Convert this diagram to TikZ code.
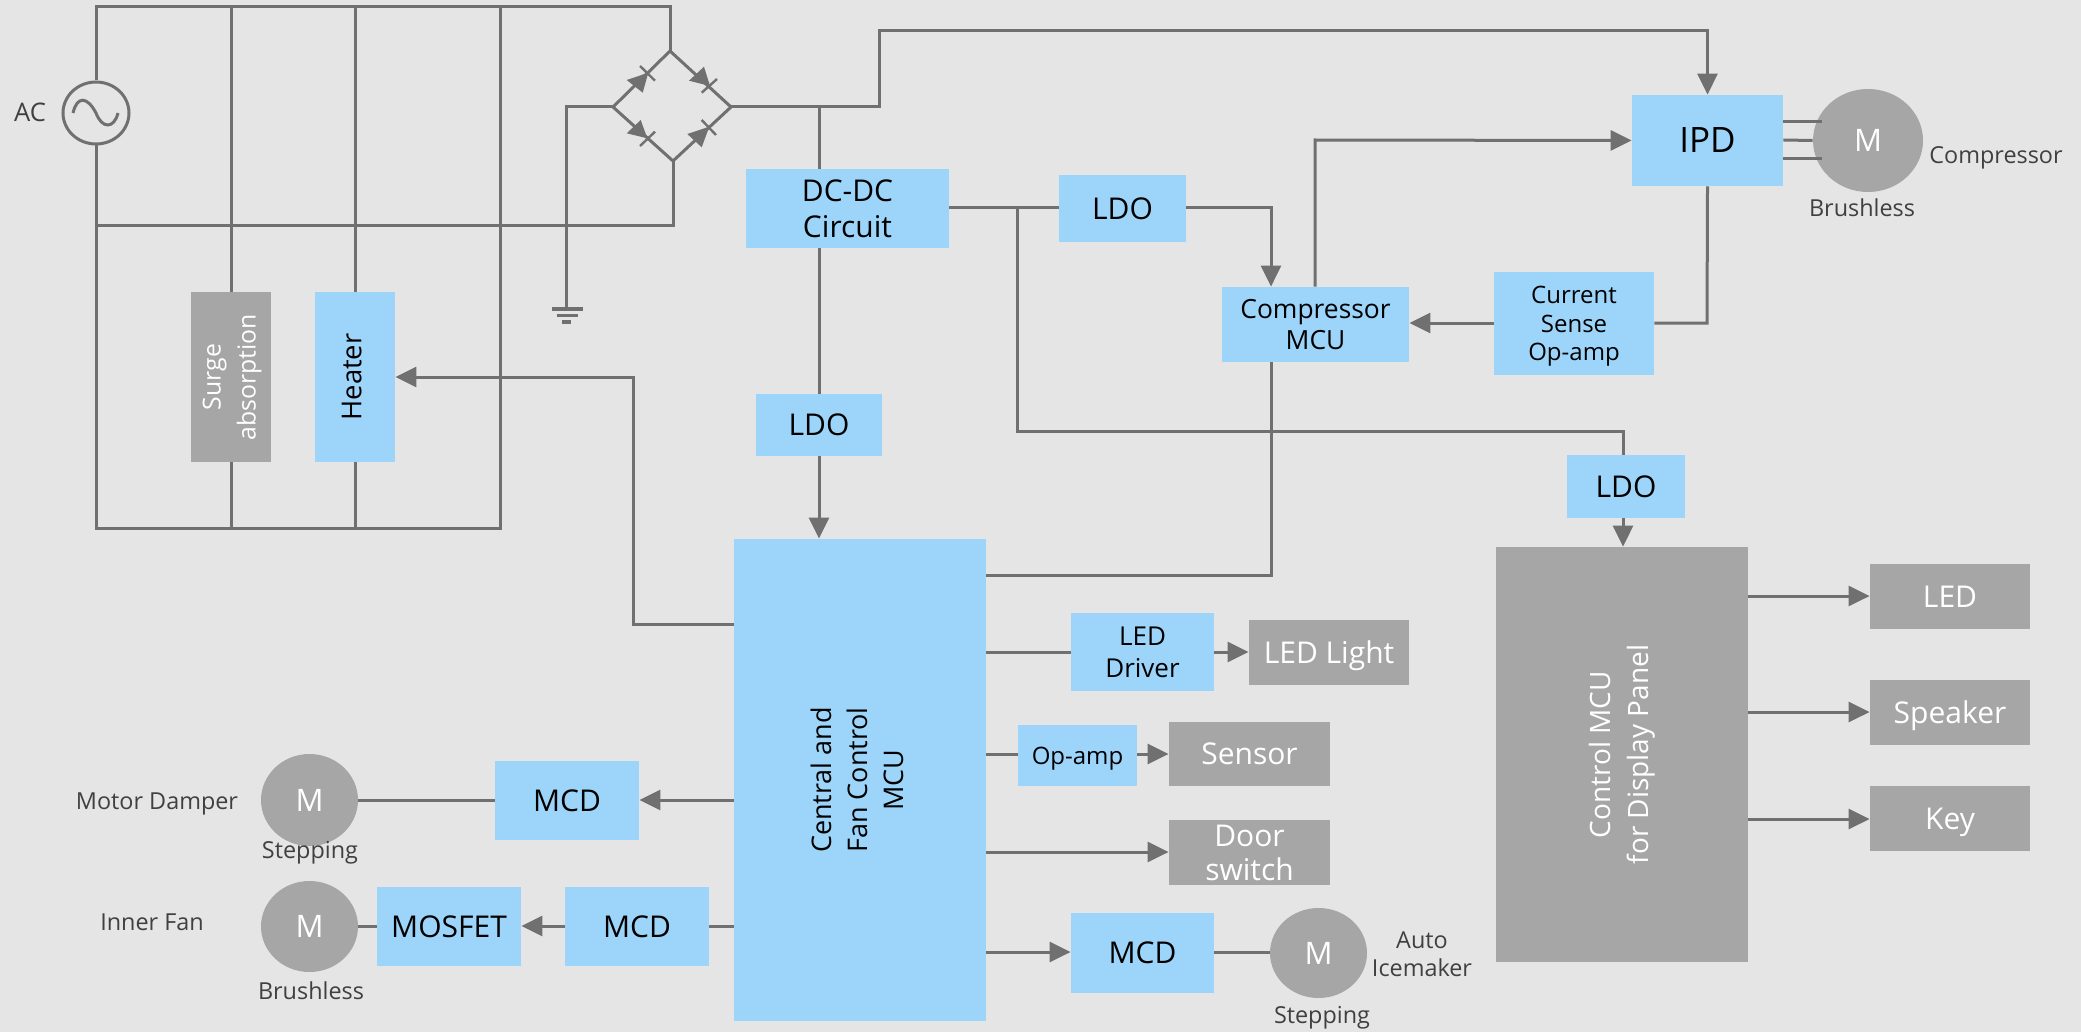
\documentclass[tikz,border=0pt]{standalone}
\usepackage{fontspec}
\setmainfont{Open Sans}
\usetikzlibrary{shapes.geometric,arrows.meta}
\definecolor{bgc}{HTML}{E5E5E5}
\definecolor{wirec}{HTML}{707070}
\definecolor{bluec}{HTML}{9DD5FA}
\definecolor{grayc}{HTML}{A6A6A6}
\definecolor{labc}{HTML}{404040}
\tikzset{
  wire/.style={draw=wirec,line width=1.5pt,line join=miter},
  arr/.style={wire,-{Triangle[length=10.5pt,width=10pt]}},
  bluebox/.style={rectangle,fill=bluec,text=black,inner sep=0pt,align=center},
  graybox/.style={rectangle,fill=grayc,text=white,inner sep=0pt,align=center},
  motor/.style={ellipse,fill=grayc,text=white,inner sep=0pt,font=\fontsize{15.5}{18}\selectfont},
  lab/.style={text=labc,inner sep=0pt,font=\fontsize{11.7}{14}\selectfont,align=center},
  fa/.style={font=\fontsize{15}{18}\selectfont},
  fb/.style={font=\fontsize{12}{14.2}\selectfont},
  fc/.style={font=\fontsize{13.2}{15.5}\selectfont},
  fd/.style={font=\fontsize{13}{16}\selectfont},
  diode/.style={fill=wirec,draw=none},
  dbar/.style={draw=wirec,line width=1.2pt},
}
\newcommand{\nd}[1]{\raisebox{0pt}[\height][0pt]{#1}}
\newcommand{\bx}[7]{%
  \pgfmathsetmacro{\bxw}{(#5-#3)*0.5}\pgfmathsetmacro{\bxh}{(#6-#4)*0.5}%
  \pgfmathsetmacro{\bxx}{(#3+#5)/2}\pgfmathsetmacro{\bxy}{(#4+#6)/2}%
  \node[#1,minimum width=\bxw pt,minimum height=\bxh pt] (#2) at (\bxx,\bxy) {#7};}
\newcommand{\mtr}[5]{%
  \pgfmathsetmacro{\bxw}{(#4-#2)*0.5}\pgfmathsetmacro{\bxh}{(#5-#3)*0.5}%
  \pgfmathsetmacro{\bxx}{(#2+#4)/2}\pgfmathsetmacro{\bxy}{(#3+#5)/2}%
  \node[motor,minimum width=\bxw pt,minimum height=\bxh pt] (#1) at (\bxx,\bxy) {M};}
\newcommand{\rot}[1]{\rotatebox{90}{\begin{tabular}{@{}c@{}}#1\end{tabular}}}
\begin{document}
\begin{tikzpicture}[x=0.5pt,y=-0.5pt]
\path[fill=bgc] (0,0) rectangle (2081,1032);
\useasboundingbox (0,0) rectangle (2081,1032);

% boxes
\bx{graybox,font=\fontsize{12.4}{17.5}\selectfont}{surge}{191}{292}{271}{462}{\rot{Surge\\absorption}}
\bx{bluebox,font=\fontsize{13.7}{16}\selectfont}{heater}{315}{292}{395}{462}{\rot{Heater}}
\bx{bluebox,fa}{dcdc}{746}{169}{949}{248}{DC-DC\\Circuit}
\bx{bluebox,fa}{ldoa}{1059}{175}{1186}{242}{LDO}
\bx{bluebox,fa}{ldob}{756}{394}{882}{456}{LDO}
\bx{bluebox,fa}{ldoc}{1567}{455}{1685}{518}{LDO}
\bx{bluebox,font=\fontsize{17.5}{20}\selectfont}{ipd}{1632}{95}{1783}{186}{IPD}
\bx{bluebox,fc}{comp}{1222}{287}{1409}{362}{Compressor\\MCU}
\bx{bluebox,fb}{sense}{1494}{272}{1654}{375}{Current\\Sense\\\nd{Op-amp}}
\bx{bluebox,font=\fontsize{13.5}{18}\selectfont}{main}{734}{539}{986}{1021}{\rot{Central and\\Fan Control\\MCU}}
\bx{graybox,font=\fontsize{14}{19}\selectfont}{disp}{1496}{547}{1748}{962}{\rot{Control MCU\\for Display Panel}}
\bx{graybox,fa}{led}{1870}{564}{2030}{629}{LED}
\bx{graybox,fa}{spk}{1870}{680}{2030}{745}{\nd{Speaker}}
\bx{graybox,fa}{key}{1870}{786}{2030}{851}{\nd{Key}}
\bx{bluebox,fd}{ledd}{1071}{613}{1214}{691}{LED\\Driver}
\bx{graybox,fa}{ledl}{1249}{620}{1409}{685}{\nd{LED Light}}
\bx{bluebox,fb}{opamp}{1018}{725}{1137}{786}{\nd{Op-amp}}
\bx{graybox,fa}{sensor}{1169}{722}{1330}{786}{Sensor}
\bx{graybox,font=\fontsize{15}{17}\selectfont}{door}{1169}{820}{1330}{885}{Door\\switch}
\bx{bluebox,fa}{mcdc}{1071}{913}{1214}{993}{MCD}
\bx{bluebox,fa}{mcda}{495}{761}{639}{840}{MCD}
\bx{bluebox,fa}{mcdb}{565}{887}{709}{966}{MCD}
\bx{bluebox,fa}{mosfet}{377}{887}{521}{966}{MOSFET}
% motors
\mtr{mcomp}{1813}{89}{1923}{192}
\mtr{mdamp}{261}{754}{358}{846}
\mtr{mfan}{261}{881}{358}{972}
\mtr{mice}{1270}{908}{1367}{998}
% source
\node[ellipse,draw=wirec,line width=1.5pt,minimum width=33pt,minimum height=31pt,inner sep=0pt] (ac) at (96,113) {};
\draw[draw=wirec,line width=1.5pt] (73,113) .. controls (77,96) and (87,96) .. (96,113) .. controls (102,129) and (114,129) .. (118,113);
% labels
\node[lab,font=\fontsize{12.8}{15}\selectfont] (lac) at (30,112) {AC};
\node[lab] (lcomp) at (1996,155) {\nd{Compressor}};
\node[lab] (lbra) at (1862,208) {Brushless};
\node[lab] (ldamp) at (157,801) {\nd{Motor Damper}};
\node[lab] (lsta) at (310,850) {\nd{Stepping}};
\node[lab] (lfan) at (152,922) {Inner Fan};
\node[lab] (lbrb) at (311,991) {Brushless};
\node[lab] (lice) at (1422,954) {Auto\\Icemaker};
\node[lab] (lstb) at (1322,1015) {\nd{Stepping}};

% bridge
\coordinate (bt) at (670,51);
\coordinate (br) at (731,107);
\coordinate (bb) at (673,161);
\coordinate (bl) at (613,107);
\coordinate (gnd) at (566,309);
\draw[wire] (bl) -- (bt) -- (br) -- (bb) -- cycle;
\fill[diode] (626.7,80) -- (642.7,92.7) -- (648.3,72.7) -- cycle;
\draw[dbar] (640,66) -- (655,80.7);
\fill[diode] (704,66.7) -- (689,80.7) -- (710,86) -- cycle;
\draw[dbar] (717,79) -- (701.7,92.7);
\fill[diode] (640.7,120) -- (626.7,133.3) -- (647.3,138.3) -- cycle;
\draw[dbar] (655,131.7) -- (640,146);
\fill[diode] (687.3,134) -- (701.7,147.3) -- (709.3,126.7) -- cycle;
\draw[dbar] (716,135) -- (701.7,120);
% ground
\draw[wire] (bl) -- (gnd |- bl) -- (gnd);
\draw[wire,line width=1.9pt] (552,309) -- (583,309);
\draw[wire,line width=1.9pt] (557,315.5) -- (578,315.5);
\draw[wire,line width=1.9pt] (562,322) -- (571,322);

% AC buses
\draw[wire] (ac.north) -- (ac.north |- 0,7) -- (bt |- 0,7) -- (bt);
\draw[wire] (ac.south) -- (ac.south |- 0,528) -- (500,528) -- (500,7);
\draw[wire] (ac.south |- 0,226) -- (bb |- 0,226) -- (bb);
\draw[wire] (surge.north) -- (surge.north |- 0,7);
\draw[wire] (surge.south) -- (surge.south |- 0,528);
\draw[wire] (heater.north) -- (heater.north |- 0,7);
\draw[wire] (heater.south) -- (heater.south |- 0,528);

% DC
\draw[wire] (br -| ldob.north) -- (dcdc.north -| ldob.north);
\draw[wire] (dcdc.south -| ldob.north) -- (ldob.north);
\draw[arr] (ldob.south) -- (main.north -| ldob.south);
\draw[arr] (br) -- (879,107) -- (879,31) -- (ipd.north |- 0,31) -- (ipd.north);
\draw[wire] (dcdc.east |- 0,208) -- (ldoa.west |- 0,208);
\draw[wire] (1017,208) -- (1017,431) -- (1623,431) -- (ldoc.north -| 1623,0);
\draw[arr] (ldoc.south -| 1623,0) -- (disp.north -| 1623,0);
\draw[arr] (ldoa.east |- 0,208) -- (1271,208) -- (comp.north -| 1271,0);
\draw[arr] (comp.north -| 1315,0) -- (1315,140) -- (ipd.west);
\draw[wire] (ipd.south) -- (1707,323) -- (sense.east |- 0,323);
\draw[arr] (sense.west |- 0,323) -- (comp.east |- 0,323);
\draw[wire] (comp.south -| 1271,0) -- (1271,575) -- (main.east |- 0,575);
\draw[arr] (main.west |- 0,624) -- (633,624) -- (633,377) -- (heater.east |- 0,377);
% main right
\draw[wire] (main.east |- 0,652) -- (ledd.west |- 0,652);
\draw[arr] (ledd.east |- 0,652) -- (ledl.west |- 0,652);
\draw[wire] (main.east |- 0,754) -- (opamp.west |- 0,754);
\draw[arr] (opamp.east |- 0,754) -- (sensor.west |- 0,754);
\draw[arr] (main.east |- 0,852) -- (door.west |- 0,852);
\draw[arr] (main.east |- 0,952) -- (mcdc.west |- 0,952);
\draw[wire] (mcdc.east |- 0,952) -- (mice.west |- 0,952);
% main left
\draw[arr] (main.west |- 0,800) -- (mcda.east |- 0,800);
\draw[wire] (mcda.west |- 0,800) -- (mdamp.east |- 0,800);
\draw[wire] (main.west |- 0,926) -- (mcdb.east |- 0,926);
\draw[arr] (mcdb.west |- 0,926) -- (mosfet.east |- 0,926);
\draw[wire] (mosfet.west |- 0,926) -- (mfan.east |- 0,926);
% display
\draw[arr] (disp.east |- 0,596) -- (led.west |- 0,596);
\draw[arr] (disp.east |- 0,712) -- (spk.west |- 0,712);
\draw[arr] (disp.east |- 0,819) -- (key.west |- 0,819);
% motor feed
\draw[wire] (ipd.east |- 0,122) -- (1822,122);
\draw[wire] (ipd.east |- 0,140) -- (mcomp.west);
\draw[wire] (ipd.east |- 0,159) -- (1822,159);
\end{tikzpicture}
\end{document}
